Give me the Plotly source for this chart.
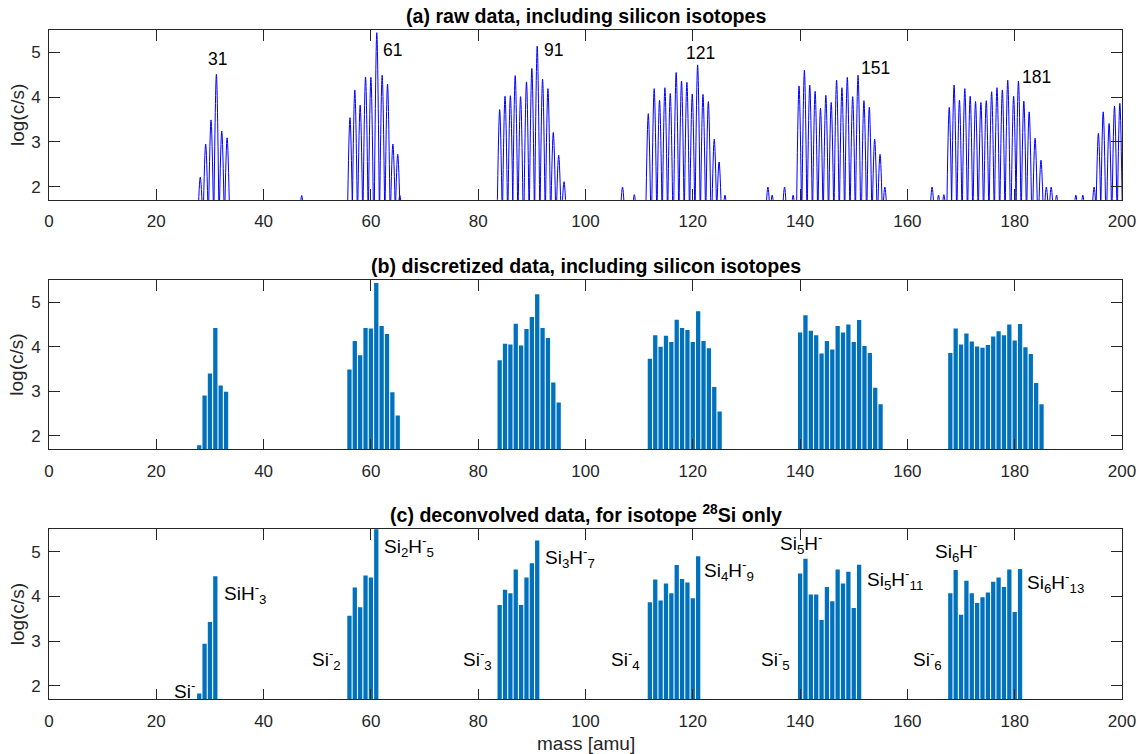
import plotly.graph_objects as go

# ---------------- data ----------------
# (a) raw spectrum: apex position [amu] and apex height log10(c/s) of each peak
raw_peak_mass = [
    28.2, 29.2, 30.2, 31.2, 32.2, 33.2,
    47.1,
    56.1, 57.0, 58.0, 59.0, 60.0, 61.1, 62.1, 63.1, 64.1, 65.0, 65.4,
    84.0, 85.0, 86.0, 86.9, 87.9, 89.0, 90.0, 91.0, 92.0, 93.0, 94.0, 95.0, 96.0,
    106.9, 109.1,
    111.7, 112.8, 113.8, 114.8, 115.8, 116.9, 117.9, 118.9, 119.9, 120.9, 121.9, 122.9, 124.0, 124.9, 126.0,
    134.0, 134.8, 137.1, 138.7,
    139.8, 140.8, 141.8, 142.8, 143.8, 144.8, 145.8, 146.8, 147.8, 148.8, 149.8, 150.8, 151.9, 152.9, 153.9, 154.9, 155.8,
    164.6, 165.8, 166.8,
    167.8, 168.7, 169.7, 170.7, 171.7, 172.7, 173.7, 174.7, 175.7, 176.7, 177.7, 178.7, 179.8, 180.7, 181.7, 182.7, 183.8, 184.9, 185.9, 186.8, 187.8,
    191.4, 192.7,
    194.8, 195.6, 196.5, 197.6, 198.6, 199.6,
]
raw_peak_logcs = [
    2.21, 2.95, 3.49, 4.51, 3.24, 3.09,
    1.80,
    3.54, 4.16, 3.82, 4.45, 4.44, 5.44, 4.49, 4.29, 2.95, 2.72, 1.80,
    3.72, 4.02, 4.03, 4.48, 4.01, 4.34, 4.64, 5.14, 4.40, 4.19, 3.21, 2.70, 2.11,
    1.99, 1.82,
    3.63, 4.19, 3.93, 4.21, 4.08, 4.55, 4.36, 4.33, 4.07, 4.72, 4.06, 3.90, 3.06, 2.55, 1.81,
    1.99, 1.81, 1.99, 1.81,
    4.25, 4.60, 4.27, 4.13, 3.75, 4.04, 3.88, 4.38, 4.21, 4.44, 4.01, 4.49, 3.92, 3.77, 3.06, 2.72, 1.99,
    1.99, 1.81, 1.82,
    3.77, 4.27, 3.93, 4.19, 4.02, 3.90, 3.88, 3.92, 4.12, 4.21, 4.16, 4.38, 4.02, 4.36, 3.91, 3.67, 3.08, 2.59, 1.99, 1.99, 1.81,
    1.81, 1.81,
    1.99, 3.19, 3.67, 3.41, 3.80, 3.86,
]

# (b) discretized data, one bar per integer mass
disc_mass = (list(range(28, 34)) + list(range(56, 66)) + list(range(84, 96))
             + list(range(112, 126)) + list(range(140, 156)) + list(range(168, 186)))
disc_logcs = [
    1.79, 2.91, 3.40, 4.42, 3.13, 2.99,
    3.49, 4.13, 3.81, 4.42, 4.41, 5.43, 4.47, 4.29, 2.98, 2.46,
    3.70, 4.07, 4.05, 4.52, 4.03, 4.40, 4.67, 5.18, 4.42, 4.20, 3.20, 2.75,
    3.73, 4.26, 4.00, 4.25, 4.11, 4.61, 4.42, 4.38, 4.11, 4.80, 4.13, 3.97, 3.10, 2.55,
    4.32, 4.71, 4.36, 4.26, 3.85, 4.13, 3.94, 4.47, 4.32, 4.50, 4.11, 4.60, 4.02, 3.86, 3.08, 2.71,
    3.86, 4.41, 4.05, 4.30, 4.12, 4.01, 3.98, 4.04, 4.23, 4.35, 4.26, 4.50, 4.14, 4.51, 3.99, 3.84, 3.19, 2.71,
]

# (c) deconvolved data, 28Si only
deconv_mass = (list(range(28, 32)) + list(range(56, 62)) + list(range(84, 92))
               + list(range(112, 122)) + list(range(140, 152)) + list(range(168, 182)))
deconv_logcs = [
    1.83, 2.94, 3.43, 4.45,
    3.57, 4.20, 3.76, 4.47, 4.42, 5.60,
    3.81, 4.15, 4.07, 4.60, 3.81, 4.42, 4.74, 5.25,
    3.87, 4.38, 3.91, 4.29, 4.07, 4.70, 4.39, 4.31, 3.96, 4.90,
    4.51, 4.84, 4.04, 4.04, 3.47, 4.21, 3.89, 4.60, 4.29, 4.55, 3.74, 4.71,
    4.07, 4.59, 3.59, 4.35, 4.07, 3.85, 3.98, 4.09, 4.33, 4.42, 4.21, 4.60, 3.65, 4.61,
]

# peak labels in (a): text, x, y, anchor
raw_labels = [
    ("31", 31.4, 4.86, "center"),
    ("61", 61.9, 5.05, "left"),
    ("91", 91.9, 5.05, "left"),
    ("121", 121.4, 4.98, "center"),
    ("151", 150.9, 4.64, "left"),
    ("181", 180.9, 4.46, "left"),
]

# ion labels in (c): text, x, y, anchor
ion_labels = [
    ("Si<sup>-</sup>", 27.5, 1.91, "right"),
    ("SiH<sup>-</sup><sub>3</sub>", 32.2, 4.07, "left"),
    ("Si<sup>-</sup><sub>2</sub>", 54.8, 2.59, "right"),
    ("Si<sub>2</sub>H<sup>-</sup><sub>5</sub>", 62.05, 5.11, "left"),
    ("Si<sup>-</sup><sub>3</sub>", 83.0, 2.59, "right"),
    ("Si<sub>3</sub>H<sup>-</sup><sub>7</sub>", 92.0, 4.87, "left"),
    ("Si<sup>-</sup><sub>4</sub>", 110.6, 2.59, "right"),
    ("Si<sub>4</sub>H<sup>-</sup><sub>9</sub>", 121.8, 4.59, "left"),
    ("Si<sup>-</sup><sub>5</sub>", 138.5, 2.59, "right"),
    ("Si<sub>5</sub>H<sup>-</sup>", 140.2, 5.19, "center"),
    ("Si<sub>5</sub>H<sup>-</sup><sub>11</sub>", 152.1, 4.37, "left"),
    ("Si<sup>-</sup><sub>6</sub>", 166.8, 2.59, "right"),
    ("Si<sub>6</sub>H<sup>-</sup>", 169.0, 5.00, "center"),
    ("Si<sub>6</sub>H<sup>-</sup><sub>13</sub>", 182.0, 4.31, "left"),
]

titles = [
    "<b>(a) raw data, including silicon isotopes</b>",
    "<b>(b) discretized data, including silicon isotopes</b>",
    "<b>(c) deconvolved data, for isotope <sup>28</sup>Si only</b>",
]
x_ticks = list(range(0, 201, 20))
y_ticks = [2, 3, 4, 5]

# ---------------- styling ----------------
W, H = 1141, 754
FONT = "Liberation Sans, Arial, Helvetica, sans-serif"
AX = "#262626"
BAR = "#0072BD"
RAW = "#0000FF"
PEAK_HALF_WIDTH = 0.5    # half width of a raw peak at its foot [amu]
PEAK_FOOT = 1.1          # foot level of a raw peak (below the visible range)

# pixel layout of the three axes (top, bottom) and left/right edges
left_px, right_px = 48.7, 1122.5
rows_px = [(30, 200), (280, 449.3), (529.3, 699.3)]
domains = [[1 - b / H, 1 - t / H] for t, b in rows_px]

fig = go.Figure()

# raw trace built as one smooth peak per apex
rx, ry = [], []
for m, h in zip(raw_peak_mass, raw_peak_logcs):
    rx += [m - PEAK_HALF_WIDTH, m, m + PEAK_HALF_WIDTH, None]
    ry += [PEAK_FOOT, h, PEAK_FOOT, None]
fig.add_trace(go.Scatter(x=rx, y=ry, mode="lines",
                         line=dict(color=RAW, width=1, shape="spline", smoothing=1),
                         connectgaps=False, hoverinfo="skip",
                         xaxis="x", yaxis="y", showlegend=False))

fig.add_trace(go.Bar(x=disc_mass, y=disc_logcs, width=0.8,
                     marker=dict(color=BAR, line=dict(width=0)),
                     xaxis="x2", yaxis="y2", showlegend=False))

fig.add_trace(go.Bar(x=deconv_mass, y=deconv_logcs, width=0.8,
                     marker=dict(color=BAR, line=dict(width=0)),
                     xaxis="x3", yaxis="y3", showlegend=False))

axis_common = dict(
    ticks="inside", ticklen=10.7, tickwidth=1, tickcolor=AX,
    showline=True, linecolor=AX, linewidth=1, mirror="ticks",
    showgrid=False, zeroline=False,
    tickfont=dict(family=FONT, size=17, color=AX),
)

layout = dict(
    width=W, height=H,
    margin=dict(l=left_px, r=W - right_px, t=0, b=0, autoexpand=False),
    paper_bgcolor="white", plot_bgcolor="white",
    font=dict(family=FONT, size=17, color=AX),
    annotations=[],
)
for i, dom in enumerate(domains):
    sfx = "" if i == 0 else str(i + 1)
    layout["xaxis" + sfx] = dict(axis_common, domain=[0, 1], range=[0, 200],
                                 tickvals=x_ticks, anchor="y" + sfx,
                                 ticklabelstandoff=6)
    layout["yaxis" + sfx] = dict(axis_common, domain=dom, range=[1.7, 5.5],
                                 tickvals=y_ticks, anchor="x" + sfx,
                                 ticklabelstandoff=4)
    # panel title
    layout["annotations"].append(dict(
        text=titles[i], xref="paper", yref="paper", x=0.5, y=dom[1],
        xanchor="center", yanchor="bottom", yshift=1, showarrow=False,
        font=dict(family=FONT, size=19.6, color="black")))
    # y label
    layout["annotations"].append(dict(
        text="log(c/s)", xref="paper", yref="paper",
        x=(16.7 - left_px) / (right_px - left_px), y=(dom[0] + dom[1]) / 2,
        xanchor="center", yanchor="middle", textangle=-90, showarrow=False,
        font=dict(family=FONT, size=19, color=AX)))

# x label of the bottom panel
layout["annotations"].append(dict(
    text="mass [amu]", xref="paper", yref="paper", x=0.5, y=1 - 743 / H,
    xanchor="center", yanchor="middle", showarrow=False,
    font=dict(family=FONT, size=19, color=AX)))

for txt, x, y, anc in raw_labels:
    layout["annotations"].append(dict(
        text=txt, xref="x", yref="y", x=x, y=y, xanchor=anc, yanchor="middle",
        showarrow=False, font=dict(family=FONT, size=17.5, color="black")))

for txt, x, y, anc in ion_labels:
    layout["annotations"].append(dict(
        text=txt, xref="x3", yref="y3", x=x, y=y, xanchor=anc, yanchor="middle",
        showarrow=False, font=dict(family=FONT, size=19, color="black")))

fig.update_layout(**layout)
fig.write_html("out.html")
